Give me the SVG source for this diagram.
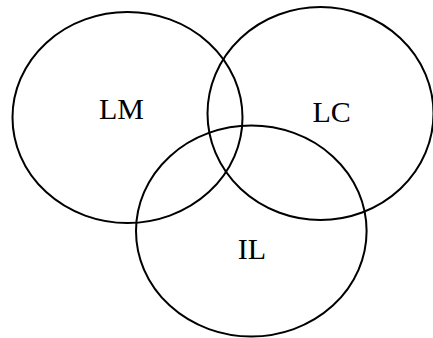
<svg xmlns="http://www.w3.org/2000/svg" width="433" height="338" viewBox="0 0 433 338">
<style>
.c{fill:none;stroke:#000;stroke-width:2}
.t{font-family:"Liberation Serif","Times New Roman",serif;font-size:30px;fill:#000}
</style>
<rect width="433" height="338" fill="#fff"/>
<g id="LM"><ellipse class="c" cx="127.5" cy="117.5" rx="115" ry="105.5"/><text class="t" x="99" y="119">LM</text></g>
<g id="LC"><ellipse class="c" cx="320.5" cy="113.5" rx="113" ry="106.5"/><text class="t" x="312.5" y="122">LC</text></g>
<g id="IL"><ellipse class="c" cx="251.3" cy="231" rx="115.3" ry="105.5"/><text class="t" x="237.8" y="258.5">IL</text></g>
<g id="connectors"/>
</svg>
